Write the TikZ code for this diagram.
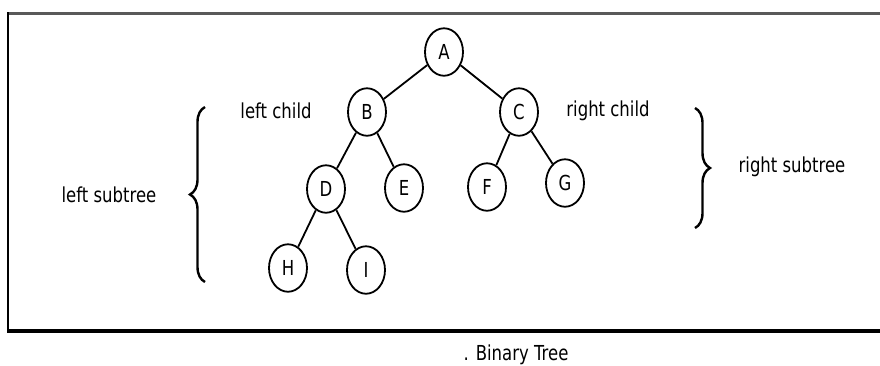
\documentclass[tikz,border=0pt]{standalone}
\usepackage{fontspec}
\setmainfont{DejaVu Sans}
\usetikzlibrary{decorations.pathreplacing}
\tikzset{
  vert/.style={draw, circle, line width=1.8pt, minimum size=38pt, inner sep=0pt, yscale=1.25},
  lbl/.style={yscale=1.25, inner sep=0pt},
  edge/.style={line width=1.8pt},
  brc/.style={decorate, decoration={brace, amplitude=15pt}, line width=2.4pt}
}
\begin{document}
\begin{tikzpicture}[x=1pt,y=-1pt,font=\fontsize{16.5}{20}\selectfont]
\useasboundingbox (0,0) rectangle (880,365);
% frame, open on the right
\draw[line width=3pt, black!65] (8,13) -- (880,13);
\draw[line width=2pt] (8,12) -- (8,332);
\draw[line width=3.5pt] (7,331) -- (880,331);
% tree
\foreach \n/\x/\y in {A/444/52, B/367/112, C/519/112, D/326/189, E/404/188,
  F/487/187, G/565/183, H/288/268, I/366/270}
  {\node[vert] (\n) at (\x,\y) {\n};}
\foreach \p/\c in {A/B, A/C, B/D, B/E, C/F, C/G, D/H, D/I}
  {\draw[edge] (\p) -- (\c);}
% labels
\node[lbl] (lchild) at (276,111) {left child};
\node[lbl] (rchild) at (608,111) {right child};
\node[lbl] (lsub) at (109,195) {left subtree};
\node[lbl] (rsub) at (792,167) {right subtree};
\node[lbl] (cap) at (516,355) {. Binary Tree};
% braces
\coordinate (lb0) at (205,282);
\coordinate (lb1) at (205,107);
\coordinate (rb0) at (695,108);
\coordinate (rb1) at (695,228);
\draw[brc] (lb0) -- (lb1);
\draw[brc] (rb0) -- (rb1);
\end{tikzpicture}
\end{document}
